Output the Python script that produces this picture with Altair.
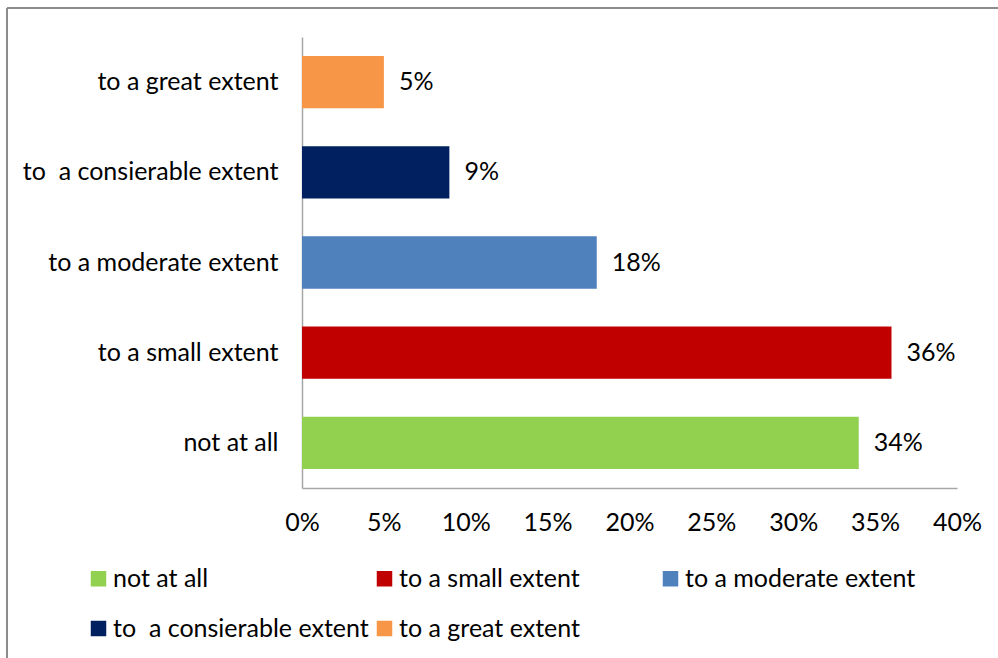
import altair as alt
import pandas as pd

# Survey responses: share of respondents per answer
categories = [
    "not at all",
    "to a small extent",
    "to a moderate extent",
    "to \u00a0a consierable extent",
    "to a great extent",
]
shares = [34, 36, 18, 9, 5]
colors = ["#92D050", "#C00000", "#4F81BD", "#002060", "#F79646"]
tick_values = [0, 5, 10, 15, 20, 25, 30, 35, 40]

FONT = "Lato"
FS = 25

df = pd.DataFrame({"answer": categories, "share": shares})
df["label"] = df["share"].astype(str) + "%"

W, H = 655, 451
LEFT, TOP = 302, 37
TOTAL_W, TOTAL_H = 998, 658

y_enc = alt.Y(
    "answer:N",
    sort=categories[::-1],
    scale=alt.Scale(paddingInner=0.42, paddingOuter=0.21),
    axis=alt.Axis(
        title=None,
        ticks=False,
        labelPadding=24,
        labelFont=FONT,
        labelFontSize=FS,
        labelColor="#000000",
        labelLimit=400,
        domainColor="#A6A6A6",
        domainWidth=1.5,
    ),
)

x_enc = alt.X(
    "share:Q",
    scale=alt.Scale(domain=[0, 40], nice=False),
    axis=alt.Axis(
        title=None,
        values=tick_values,
        labelExpr="datum.value + '%'",
        labelFlush=False,
        ticks=False,
        grid=False,
        labelPadding=22,
        labelFont=FONT,
        labelFontSize=FS,
        labelColor="#000000",
        domainColor="#A6A6A6",
        domainWidth=1.5,
    ),
)

bars = alt.Chart(df).mark_bar().encode(
    x=x_enc,
    y=y_enc,
    color=alt.Color(
        "answer:N",
        sort=categories,
        scale=alt.Scale(domain=categories, range=colors),
        legend=alt.Legend(
            title=None,
            orient="none",
            legendX=-216,
            legendY=529,
            direction="horizontal",
            columns=3,
            gridAlign="all",
            symbolType="square",
            symbolSize=240,
            symbolStrokeWidth=0,
            symbolOffset=0,
            labelOffset=2,
            labelFont=FONT,
            labelFontSize=FS,
            labelColor="#000000",
            labelLimit=400,
            columnPadding=3,
            rowPadding=24,
        ),
    ),
)

labels = alt.Chart(df).mark_text(
    align="left", baseline="middle", dx=15, font=FONT, fontSize=FS, color="#000000"
).encode(x="share:Q", y=alt.Y("answer:N", sort=categories[::-1]), text="label:N")

# Outer frame: top and left edges of the chart border
frame_top = alt.Chart(df).mark_rule(color="#8C8C8C", strokeWidth=1.5).encode(
    x=alt.value(7 - LEFT), x2=alt.value(TOTAL_W - LEFT + 5), y=alt.value(8 - TOP)
)
frame_left = alt.Chart(df).mark_rule(color="#8C8C8C", strokeWidth=1.5).encode(
    x=alt.value(7 - LEFT), y=alt.value(8 - TOP), y2=alt.value(TOTAL_H - TOP + 5)
)

chart = (
    alt.layer(frame_top, frame_left, bars, labels)
    .properties(
        width=W,
        height=H,
        autosize=alt.AutoSizeParams(type="none"),
        padding={"left": LEFT, "top": TOP, "right": TOTAL_W - LEFT - W, "bottom": TOTAL_H - TOP - H},
        background="#FFFFFF",
    )
    .configure_view(stroke=None)
)

chart.save("out.html", embed_options={"renderer": "svg", "actions": False})
